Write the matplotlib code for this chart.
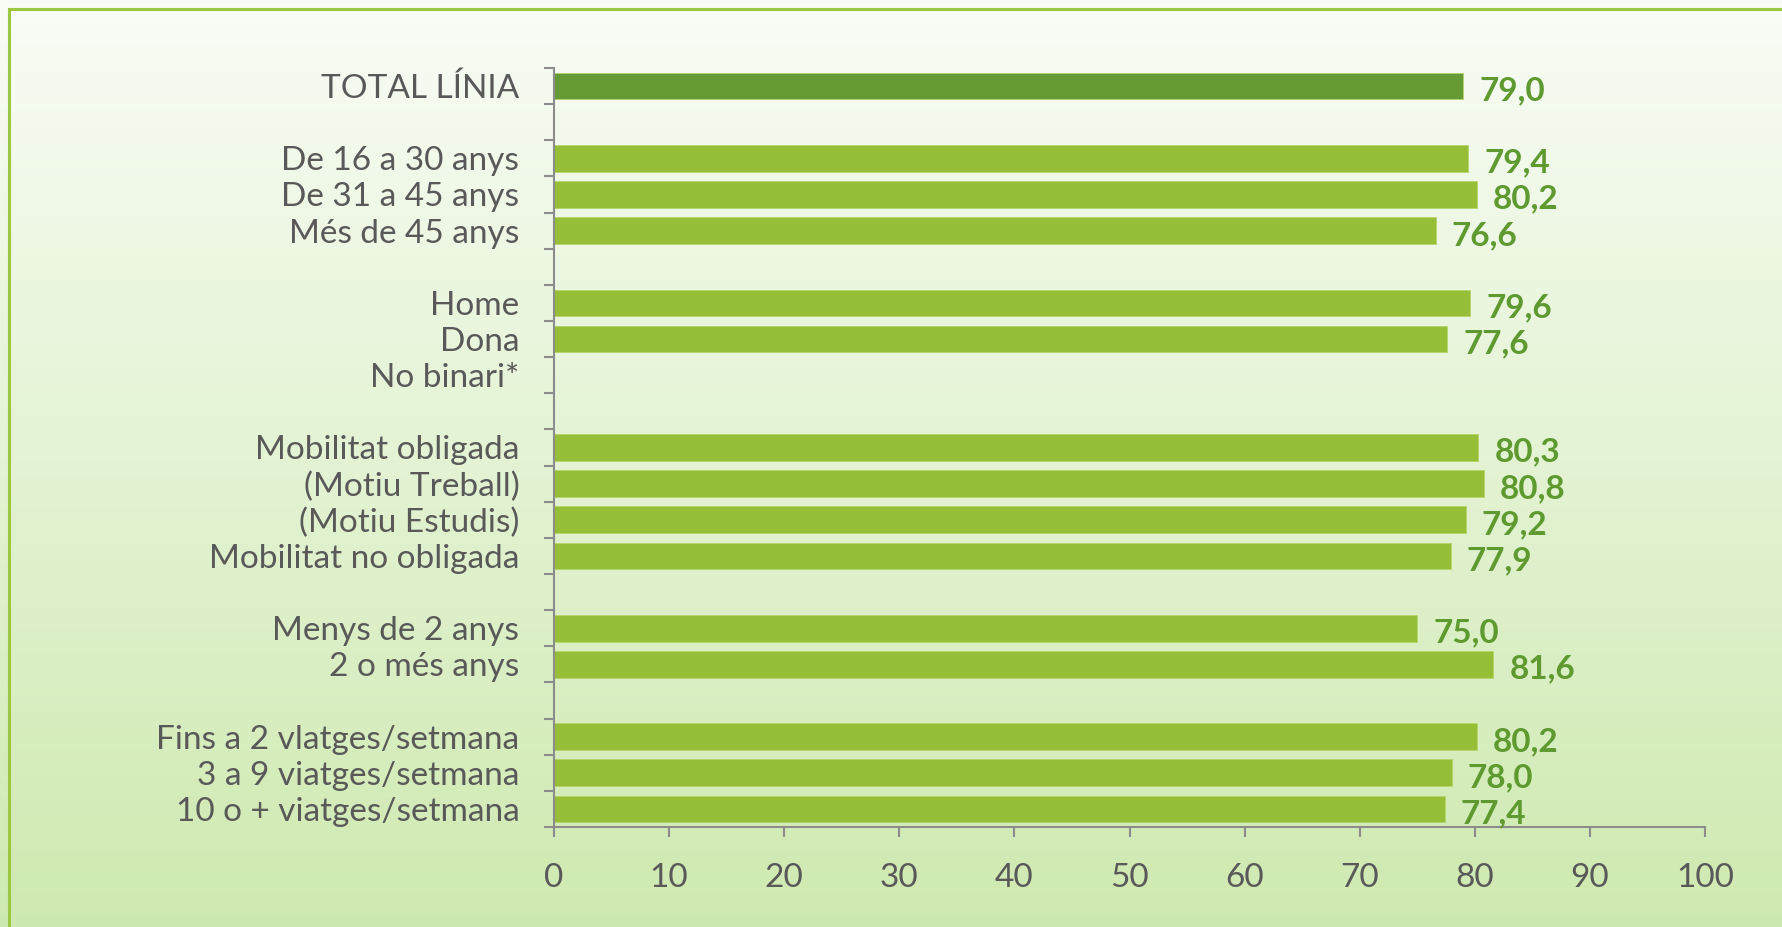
import numpy as np
import matplotlib
matplotlib.use("Agg")
import matplotlib.pyplot as plt
from matplotlib.patches import Rectangle

# slots from top to bottom; "" marks an empty spacer row
categories = [
    "TOTAL LÍNIA", "",
    "De 16 a 30 anys", "De 31 a 45 anys", "Més de 45 anys", "",
    "Home", "Dona", "No binari*", "",
    "Mobilitat obligada", "(Motiu Treball)", "(Motiu Estudis)", "Mobilitat no obligada", "",
    "Menys de 2 anys", "2 o més anys", "",
    "Fins a 2 vlatges/setmana", "3 a 9 viatges/setmana", "10 o + viatges/setmana",
]
values = [
    79.0, None,
    79.4, 80.2, 76.6, None,
    79.6, 77.6, None, None,
    80.3, 80.8, 79.2, 77.9, None,
    75.0, 81.6, None,
    80.2, 78.0, 77.4,
]
xticks = [0, 10, 20, 30, 40, 50, 60, 70, 80, 90, 100]

TOTAL_COLOR = "#669A34"
BAR_COLOR = "#97BE37"
LABEL_COLOR = "#5E9A30"
TEXT_COLOR = "#595959"
AXIS_COLOR = "#8C8C8C"

plt.rcParams["font.family"] = ["Lato", "DejaVu Sans"]

fig = plt.figure(figsize=(17.83, 9.27), dpi=100)

# gradient background
bg = fig.add_axes([0, 0, 1, 1], zorder=-10)
grad = np.linspace(0, 1, 256).reshape(-1, 1)
top = np.array([0.975, 0.990, 0.965])
bottom = np.array([0.810, 0.915, 0.690])
img = top[None, None, :] * (1 - grad[:, :, None]) + bottom[None, None, :] * grad[:, :, None]
bg.imshow(img, aspect="auto", extent=[0, 1, 0, 1], origin="upper")
bg.add_patch(Rectangle((9 / 1783, -0.1), 1.2, 1.1 - 9 / 927, fill=False,
                       edgecolor="#9CC841", linewidth=2.2, transform=bg.transAxes))
bg.set_xlim(0, 1)
bg.set_ylim(0, 1)
bg.axis("off")

ax = fig.add_axes([554 / 1783, 1 - 827 / 927, (1705 - 554) / 1783, (827 - 68) / 927])
ax.set_facecolor("none")

y = np.arange(len(categories))
for i, v in enumerate(values):
    if v is None:
        continue
    color = TOTAL_COLOR if i == 0 else BAR_COLOR
    ax.barh(i, v, height=0.74, color=color, edgecolor="#B5D56A", linewidth=0.6)
    ax.text(v + 1.4, i + 0.13, f"{v:.1f}".replace(".", ","), va="center", ha="left",
            fontsize=24, fontweight="bold", color=LABEL_COLOR)

ax.set_ylim(len(categories) - 0.5, -0.5)
ax.set_xlim(0, 100)

ax.set_yticks(y)
ax.set_yticklabels(categories, fontsize=24, color=TEXT_COLOR)
ax.tick_params(axis="y", which="major", length=0, pad=25)
ax.set_yticks(np.arange(-0.5, len(categories), 1.0), minor=True)
ax.tick_params(axis="y", which="minor", length=7, width=1.5, color=AXIS_COLOR)

ax.set_xticks(xticks)
ax.set_xticklabels([str(t) for t in xticks], fontsize=24, color=TEXT_COLOR)
ax.tick_params(axis="x", length=7, width=1.5, color=AXIS_COLOR, pad=19)

for side in ["top", "right"]:
    ax.spines[side].set_visible(False)
for side in ["left", "bottom"]:
    ax.spines[side].set_color(AXIS_COLOR)
    ax.spines[side].set_linewidth(1.5)

fig.savefig("out.png", dpi=100)
